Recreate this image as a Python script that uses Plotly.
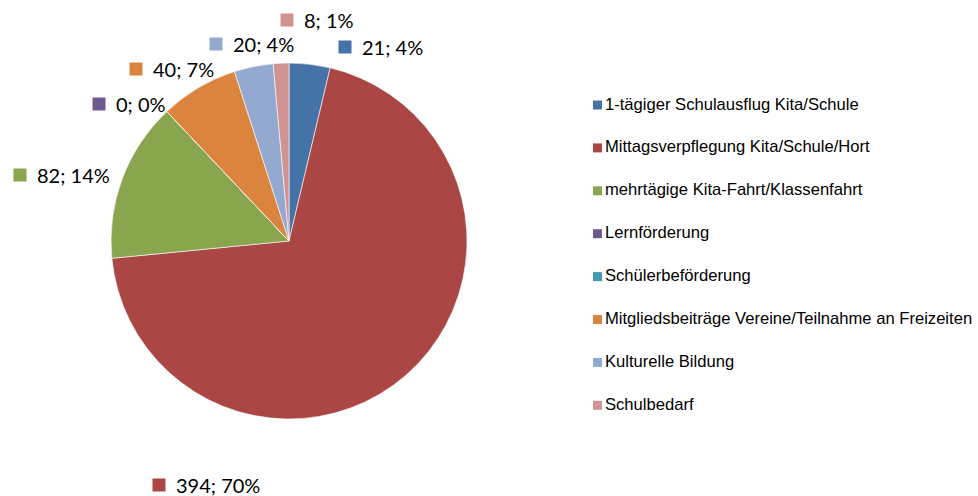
import plotly.graph_objects as go

categories = [
    "1-tägiger Schulausflug Kita/Schule",
    "Mittagsverpflegung Kita/Schule/Hort",
    "mehrtägige Kita-Fahrt/Klassenfahrt",
    "Lernförderung",
    "Schülerbeförderung",
    "Mitgliedsbeiträge Vereine/Teilnahme an Freizeiten",
    "Kulturelle Bildung",
    "Schulbedarf",
]
values = [21, 394, 82, 0, 0, 40, 20, 8]
percent_labels = [4, 70, 14, 0, 0, 7, 4, 1]  # as printed on the chart
show_label = [True, True, True, True, False, True, True, True]
colors = ["#4572A7", "#AA4643", "#89A54E", "#71588F", "#4198AF", "#DB843D", "#93A9CF", "#D19392"]

W, H = 978, 496

fig = go.Figure()
fig.add_trace(go.Pie(
    labels=categories, values=values, sort=False, direction="clockwise", rotation=0,
    marker=dict(colors=colors, line=dict(color="white", width=0.6)),
    textinfo="none", hoverinfo="label+value+percent", showlegend=False,
    domain=dict(x=[111 / W, 467 / W], y=[(H - 419) / H, (H - 63) / H]),
))

# data label anchor points (pixel coords: square center), Excel "best fit" placement
label_pos = {0: (345, 47), 1: (159, 485), 2: (20, 175), 3: (99, 104), 5: (136, 69), 6: (216, 44), 7: (287, 20)}

shapes = []
annotations = []
for i, (v, p, c) in enumerate(zip(values, percent_labels, colors)):
    if not show_label[i] or i not in label_pos:
        continue
    sx, sy = label_pos[i]
    shapes.append(dict(type="rect", xref="paper", yref="paper",
                       x0=(sx - 6.5) / W, x1=(sx + 6.5) / W,
                       y0=(H - sy - 6.5) / H, y1=(H - sy + 6.5) / H,
                       fillcolor=c, line=dict(width=0)))
    annotations.append(dict(xref="paper", yref="paper", x=(sx + 16) / W, y=(H - sy) / H,
                            xanchor="left", yanchor="middle", showarrow=False, borderpad=0,
                            text=f"{v}; {p}%",
                            font=dict(family="Lato, Carlito, sans-serif", size=20, color="#000000")))

# legend
for i, (cat, c) in enumerate(zip(categories, colors)):
    y = 105 + i * 42.9
    shapes.append(dict(type="rect", xref="paper", yref="paper",
                       x0=593 / W, x1=602 / W, y0=(H - y - 4.5) / H, y1=(H - y + 4.5) / H,
                       fillcolor=c, line=dict(width=0)))
    annotations.append(dict(xref="paper", yref="paper", x=604 / W, y=(H - y + 1) / H,
                            xanchor="left", yanchor="middle", showarrow=False, borderpad=0, text=cat,
                            font=dict(family="Liberation Sans, Arial, sans-serif", size=16.6, color="#000000")))

fig.update_layout(
    width=W, height=H, margin=dict(l=0, r=0, t=0, b=0),
    paper_bgcolor="white", plot_bgcolor="white",
    shapes=shapes, annotations=annotations,
)
fig.write_html("out.html", config={"displayModeBar": False},
               post_script="document.body.style.margin='0';")
